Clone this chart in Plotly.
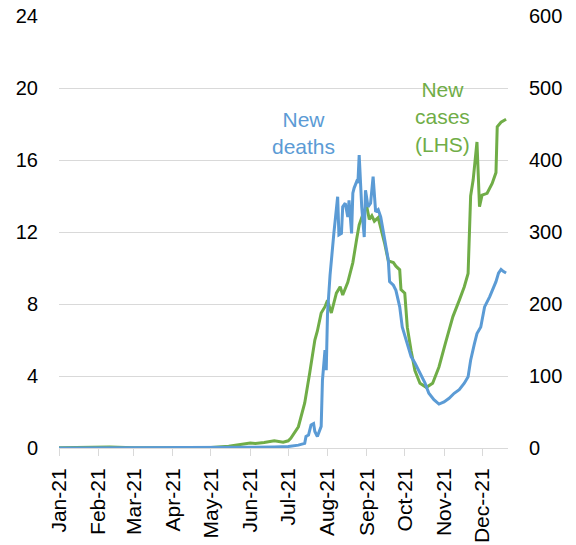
import plotly.graph_objects as go

# New cases (LHS)
case_dates = [
    "2021-01-01", "2021-01-20", "2021-02-01", "2021-02-10", "2021-03-01",
    "2021-04-01", "2021-05-01", "2021-05-15", "2021-05-25", "2021-06-01",
    "2021-06-05", "2021-06-12", "2021-06-20", "2021-06-27", "2021-07-01",
    "2021-07-03", "2021-07-09", "2021-07-14", "2021-07-18", "2021-07-22",
    "2021-07-24", "2021-07-27", "2021-07-30", "2021-08-01", "2021-08-04",
    "2021-08-08", "2021-08-11", "2021-08-13", "2021-08-17", "2021-08-21",
    "2021-08-24", "2021-08-26", "2021-08-30", "2021-09-01", "2021-09-03",
    "2021-09-05", "2021-09-07", "2021-09-10", "2021-09-15", "2021-09-18",
    "2021-09-22", "2021-09-24", "2021-09-27", "2021-09-28", "2021-10-01",
    "2021-10-03", "2021-10-06", "2021-10-09", "2021-10-13", "2021-10-18",
    "2021-10-23", "2021-10-28", "2021-11-02", "2021-11-08", "2021-11-13",
    "2021-11-17", "2021-11-20", "2021-11-22", "2021-11-24", "2021-11-26",
    "2021-11-27", "2021-11-29", "2021-12-01", "2021-12-05", "2021-12-09",
    "2021-12-12", "2021-12-13", "2021-12-16", "2021-12-20",
]
case_vals = [
    0.02, 0.03, 0.06, 0.05, 0.02,
    0.01, 0.03, 0.10, 0.20, 0.28,
    0.25, 0.30, 0.40, 0.32, 0.40,
    0.54, 1.18, 2.5, 4.2, 6.0,
    6.5, 7.5, 7.85, 8.2, 7.5,
    8.6, 8.96, 8.5, 9.2, 10.3,
    11.6, 12.4, 13.2, 13.4, 12.7,
    12.9, 12.6, 12.8, 11.4, 10.4,
    10.3, 10.1, 9.9, 8.8, 8.6,
    6.7, 5.4, 4.3, 3.6, 3.37,
    3.6, 4.5, 5.8, 7.3, 8.2,
    8.96, 9.7, 14.0, 14.9, 16.2,
    17.0, 13.4, 14.05, 14.15, 14.7,
    15.3, 17.85, 18.1, 18.26,
]

# New deaths (RHS)
death_dates = [
    "2021-01-01", "2021-03-01", "2021-05-01", "2021-06-01", "2021-06-20",
    "2021-07-01", "2021-07-09", "2021-07-14", "2021-07-15", "2021-07-17",
    "2021-07-19", "2021-07-21", "2021-07-22", "2021-07-24", "2021-07-27",
    "2021-07-28", "2021-07-30", "2021-07-31", "2021-08-01", "2021-08-03",
    "2021-08-06", "2021-08-09", "2021-08-10", "2021-08-12", "2021-08-13",
    "2021-08-15", "2021-08-17", "2021-08-18", "2021-08-20", "2021-08-21",
    "2021-08-22", "2021-08-24", "2021-08-25", "2021-08-26", "2021-08-28",
    "2021-08-30", "2021-08-31", "2021-09-02", "2021-09-04", "2021-09-06",
    "2021-09-08", "2021-09-10", "2021-09-12", "2021-09-15", "2021-09-18",
    "2021-09-19", "2021-09-22", "2021-09-24", "2021-09-27", "2021-09-29",
    "2021-10-03", "2021-10-06", "2021-10-09", "2021-10-13", "2021-10-17",
    "2021-10-20", "2021-10-24", "2021-10-28", "2021-11-01", "2021-11-05",
    "2021-11-09", "2021-11-13", "2021-11-17", "2021-11-20", "2021-11-22",
    "2021-11-25", "2021-11-27", "2021-11-30", "2021-12-03", "2021-12-07",
    "2021-12-09", "2021-12-12", "2021-12-14", "2021-12-16", "2021-12-18",
    "2021-12-20",
]
death_vals = [
    0, 0, 0.5, 1, 1.5,
    2, 4, 6.5, 16, 18,
    32, 34, 23, 16, 30,
    94, 136, 108, 187, 240,
    298, 349, 296, 298, 335,
    340, 321, 344, 298, 354,
    361, 370, 368, 407, 335,
    293, 358, 335, 340, 377,
    328, 331, 321, 289, 261,
    231, 226, 219, 196, 168,
    145, 127, 118, 104, 90,
    76, 67, 61, 64, 69,
    76, 81, 90, 99, 122,
    145, 159, 168, 196, 210,
    219, 231, 243, 248, 245,
    243,
]

month_ticks = [
    "2021-01-01", "2021-02-01", "2021-03-01", "2021-04-01", "2021-05-01",
    "2021-06-01", "2021-07-01", "2021-08-01", "2021-09-01", "2021-10-01",
    "2021-11-01", "2021-12-01",
]
month_labels = [
    "Jan-21", "Feb-21", "Mar-21", "Apr-21", "May-21", "Jun-21",
    "Jul-21", "Aug-21", "Sep-21", "Oct-21", "Nov-21", "Dec--21",
]

BLUE = "#5B9BD5"
GREEN = "#70AD47"
GRID = "#D9D9D9"
FONT = "Liberation Sans, Arial, sans-serif"

fig = go.Figure()

fig.add_trace(
    go.Scatter(
        x=case_dates,
        y=case_vals,
        mode="lines",
        line=dict(color=GREEN, width=3),
        name="New cases (LHS)",
        yaxis="y",
    )
)
fig.add_trace(
    go.Scatter(
        x=death_dates,
        y=death_vals,
        mode="lines",
        line=dict(color=BLUE, width=3),
        name="New deaths",
        yaxis="y2",
    )
)

fig.add_annotation(
    x="2021-07-13", y=17.5, xref="x", yref="y",
    text="New<br>deaths", showarrow=False,
    font=dict(family=FONT, size=21, color=BLUE),
)
fig.add_annotation(
    x="2021-10-31", y=18.4, xref="x", yref="y",
    text="New<br>cases<br>(LHS)", showarrow=False,
    font=dict(family=FONT, size=21, color=GREEN),
)

fig.update_layout(
    width=576,
    height=545,
    margin=dict(l=59, r=68, t=16, b=97),
    paper_bgcolor="white",
    plot_bgcolor="white",
    showlegend=False,
    font=dict(family=FONT, size=20, color="black"),
    xaxis=dict(
        type="date",
        range=["2021-01-01", "2021-12-21 12:00"],
        tickvals=month_ticks,
        ticktext=month_labels,
        tickangle=-90,
        ticks="outside",
        ticklen=7,
        tickcolor=GRID,
        tickwidth=1,
        showline=True,
        linecolor=GRID,
        linewidth=1,
        showgrid=False,
        zeroline=False,
        automargin=False,
        ticklabelstandoff=4,
        tickfont=dict(size=21),
    ),
    yaxis=dict(
        range=[0, 24],
        dtick=4,
        tick0=0,
        showgrid=True,
        gridcolor=GRID,
        gridwidth=1,
        zeroline=False,
        ticks="",
        automargin=False,
        ticklabelstandoff=20,
        tickfont=dict(size=20),
    ),
    yaxis2=dict(
        range=[0, 600],
        dtick=100,
        tick0=0,
        overlaying="y",
        side="right",
        showgrid=False,
        zeroline=False,
        ticks="",
        automargin=False,
        ticklabelstandoff=20,
        tickfont=dict(size=20),
    ),
)

# drop the page's default body margin so the figure sits at the window origin
fig.write_html(
    "out.html",
    config={"displayModeBar": False},
    post_script="document.body.style.margin='0';",
)
